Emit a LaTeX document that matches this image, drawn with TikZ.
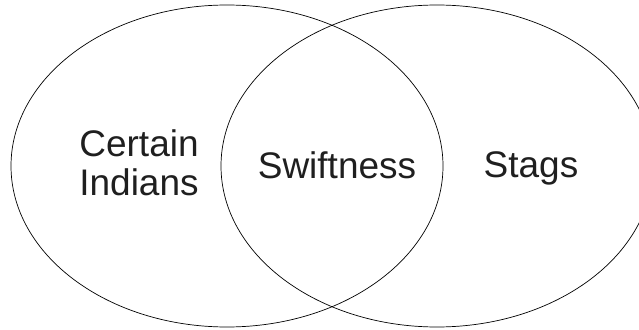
\documentclass[tikz,border=0pt]{standalone}
\usepackage{fontspec}
\setmainfont{Liberation Sans}
\usetikzlibrary{shapes.geometric}

\begin{document}
\begin{tikzpicture}[x=1pt, y=1pt,
    set/.style={ellipse, draw, line width=0.7pt, minimum width=432pt,
                minimum height=322pt, inner sep=0pt},
    lbl/.style={text=black!88, align=center,
                font=\fontsize{37}{39}\selectfont}]
    \useasboundingbox (0,0) rectangle (639,329);
    \clip (0,0) rectangle (639,329);
    \node[set] (indians) at (227,163) {};
    \node[set] (stags)   at (437,163) {};
    \node[lbl] (certain) at (139,166) {Certain\\Indians};
    \node[lbl, anchor=base] (swift) at (337,150) {Swiftness};
    \node[lbl, anchor=base] (stag)  at (531,151) {Stags};
\end{tikzpicture}
\end{document}
